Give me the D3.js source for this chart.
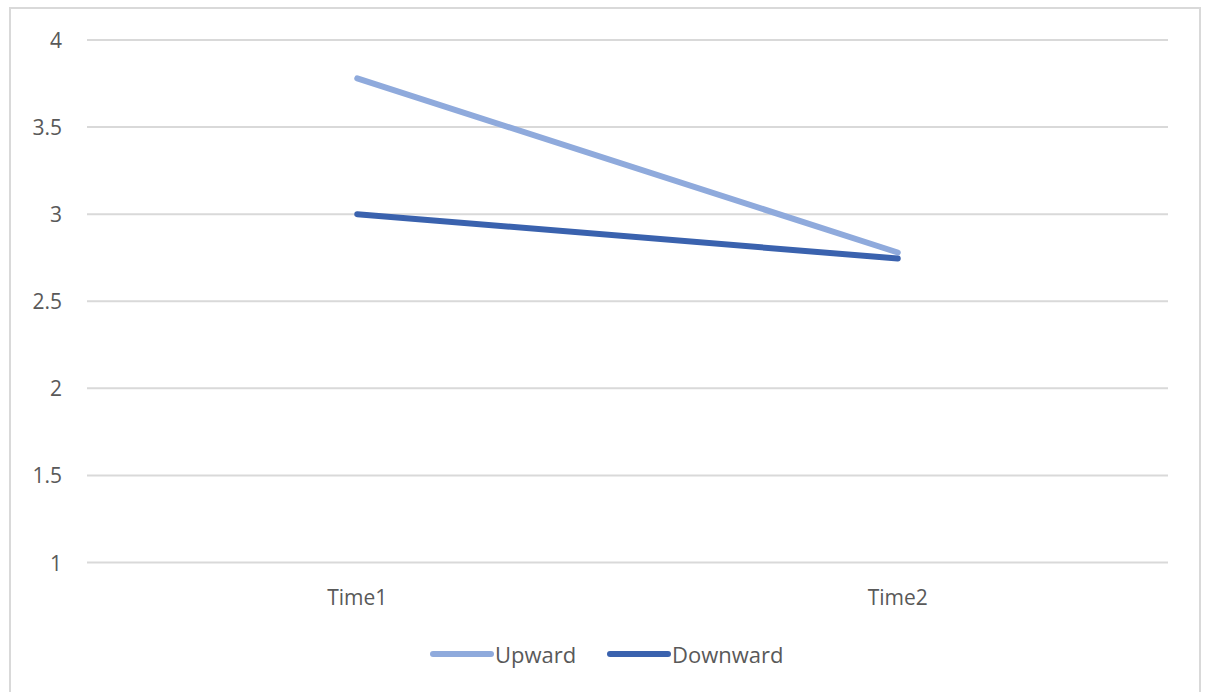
<!DOCTYPE html>
<html>
<head>
<meta charset="utf-8">
<script src="https://cdn.jsdelivr.net/npm/d3@7/dist/d3.min.js"></script>
<style>
  html, body { margin: 0; padding: 0; background: #fff; }
  svg { display: block; }
  text { font-family: "Open Sans", "Noto Sans", sans-serif; fill: #595959; }
</style>
</head>
<body>
<svg id="chart" width="1207" height="692"></svg>
<script>
// Categories and series
const categories = ["Time1", "Time2"];
const upward = [3.78, 2.78];
const downward = [3.0, 2.745];
const seriesNames = ["Upward", "Downward"];
const yTicks = [1, 1.5, 2, 2.5, 3, 3.5, 4];

const colors = { Upward: "#8FAADC", Downward: "#3A62AE" };

const svg = d3.select("#chart");
const W = 1207, H = 692;

// Chart frame
svg.append("rect")
  .attr("x", 10).attr("y", 8)
  .attr("width", 1190).attr("height", H)
  .attr("fill", "#fff")
  .attr("stroke", "#D9D9D9").attr("stroke-width", 2);

const plot = { left: 87, right: 1168, top: 40, bottom: 562.5 };

const x = d3.scaleBand().domain(categories).range([plot.left, plot.right]).padding(0);
const y = d3.scaleLinear().domain([1, 4]).range([plot.bottom, plot.top]);

// Horizontal gridlines
svg.append("g").selectAll("line").data(yTicks).join("line")
  .attr("x1", plot.left).attr("x2", plot.right)
  .attr("y1", d => y(d)).attr("y2", d => y(d))
  .attr("stroke", "#D9D9D9").attr("stroke-width", 2);

// Y axis labels
svg.append("g").selectAll("text").data(yTicks).join("text")
  .attr("x", 62).attr("y", d => y(d))
  .attr("text-anchor", "end").attr("dominant-baseline", "central")
  .attr("font-size", 21)
  .text(d => d3.format("")(d));

// X axis labels
svg.append("g").selectAll("text").data(categories).join("text")
  .attr("x", d => x(d) + x.bandwidth() / 2).attr("y", 597)
  .attr("text-anchor", "middle").attr("dominant-baseline", "central")
  .attr("font-size", 21)
  .text(d => d);

// Series lines
const series = [
  { name: "Upward", values: upward },
  { name: "Downward", values: downward }
];
const line = d3.line()
  .x((d, i) => x(categories[i]) + x.bandwidth() / 2)
  .y(d => y(d));

svg.append("g").selectAll("path").data(series).join("path")
  .attr("d", d => line(d.values))
  .attr("fill", "none")
  .attr("stroke", d => colors[d.name])
  .attr("stroke-width", 6)
  .attr("stroke-linecap", "round")
  .attr("stroke-linejoin", "round");

// Legend
const legendItems = [
  { name: seriesNames[0], x: 433 },
  { name: seriesNames[1], x: 610 }
];
const lg = svg.append("g").selectAll("g").data(legendItems).join("g")
  .attr("transform", d => `translate(${d.x},654)`);
lg.append("line")
  .attr("x1", 0).attr("x2", 58).attr("y1", 0).attr("y2", 0)
  .attr("stroke", d => colors[d.name]).attr("stroke-width", 6)
  .attr("stroke-linecap", "round");
lg.append("text")
  .attr("x", 62).attr("y", 0)
  .attr("dominant-baseline", "central")
  .attr("font-size", 22)
  .text(d => d.name);
</script>
</body>
</html>
